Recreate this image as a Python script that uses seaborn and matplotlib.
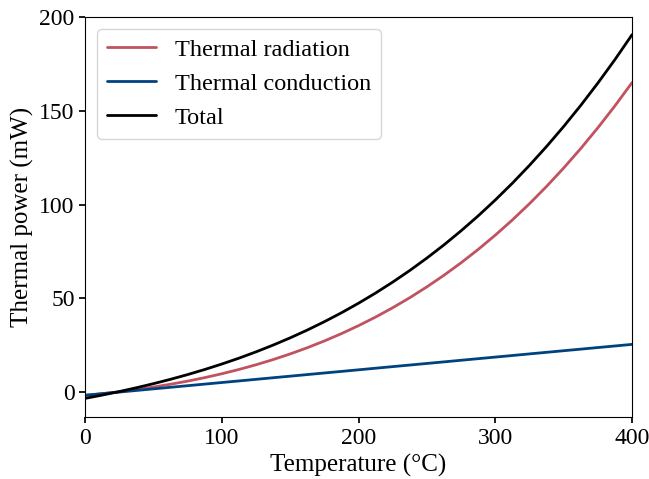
import matplotlib
matplotlib.use("Agg")
import matplotlib.pyplot as plt
import seaborn as sns
import pandas as pd

temperature = [0, 12.5, 25, 37.5, 50, 62.5, 75, 87.5, 100, 112.5, 125, 137.5, 150, 162.5, 175, 187.5,
               200, 212.5, 225, 237.5, 250, 262.5, 275, 287.5, 300, 312.5, 325, 337.5, 350, 362.5, 375, 387.5, 400]
radiation = [-1.69, -0.78, 0.26, 1.44, 2.77, 4.26, 5.92, 7.78, 9.84, 12.12, 14.63, 17.39, 20.41, 23.71, 27.32, 31.23,
             35.48, 40.07, 45.04, 50.39, 56.16, 62.35, 68.99, 76.10, 83.70, 91.81, 100.47, 109.68, 119.48, 129.88, 140.92, 152.61, 165.0]
conduction = [-1.6, -0.75, 0.09, 0.94, 1.79, 2.63, 3.48, 4.33, 5.18, 6.02, 6.87, 7.72, 8.56, 9.41, 10.26, 11.10,
              11.95, 12.80, 13.65, 14.49, 15.34, 16.18, 17.04, 17.88, 18.73, 19.57, 20.43, 21.27, 22.12, 22.96, 23.81, 24.65, 25.5]
total = [-3.29, -1.53, 0.35, 2.38, 4.56, 6.89, 9.40, 12.11, 15.02, 18.14, 21.50, 25.11, 28.97, 33.12, 37.58, 42.33,
         47.43, 52.87, 58.69, 64.88, 71.50, 78.53, 86.03, 93.98, 102.43, 111.38, 120.90, 130.95, 141.60, 152.84, 164.73, 177.26, 190.5]
series_names = ["Thermal radiation", "Thermal conduction", "Total"]
series_colors = ["#c1525f", "#00427f", "#000000"]

sns.set_theme(style="ticks")
plt.rcParams['font.family'] = ['Liberation Serif', 'DejaVu Serif']
plt.rcParams['text.color'] = 'black'
plt.rcParams['axes.labelcolor'] = 'black'
plt.rcParams['xtick.color'] = 'black'
plt.rcParams['ytick.color'] = 'black'

n = len(temperature)
df = pd.DataFrame({
    "Temperature": temperature * 3,
    "Power": radiation + conduction + total,
    "Series": [series_names[0]] * n + [series_names[1]] * n + [series_names[2]] * n,
})

fig, ax = plt.subplots(figsize=(6.49, 4.79), dpi=100)
sns.lineplot(data=df, x="Temperature", y="Power", hue="Series", hue_order=series_names,
             palette=series_colors, linewidth=2, ax=ax)
ax.set_xlim(0, 400)
ax.set_ylim(-13.3, 200)
ax.set_xticks([0, 100, 200, 300, 400])
ax.set_yticks([0, 50, 100, 150, 200])
ax.set_xlabel("Temperature (°C)", fontsize=18)
ax.set_ylabel("Thermal power (mW)", fontsize=18)
ax.tick_params(labelsize=17, direction="out", length=4, colors="black")
for s in ax.spines.values():
    s.set_linewidth(0.8)
    s.set_color("black")
leg = ax.legend(loc="upper left", fontsize=17.5, frameon=True, framealpha=0.8, edgecolor="#cccccc",
                handlelength=2.0)
leg.set_title(None)
fig.subplots_adjust(left=0.131, right=0.974, top=0.965, bottom=0.129)
fig.savefig("out.png", dpi=100)
